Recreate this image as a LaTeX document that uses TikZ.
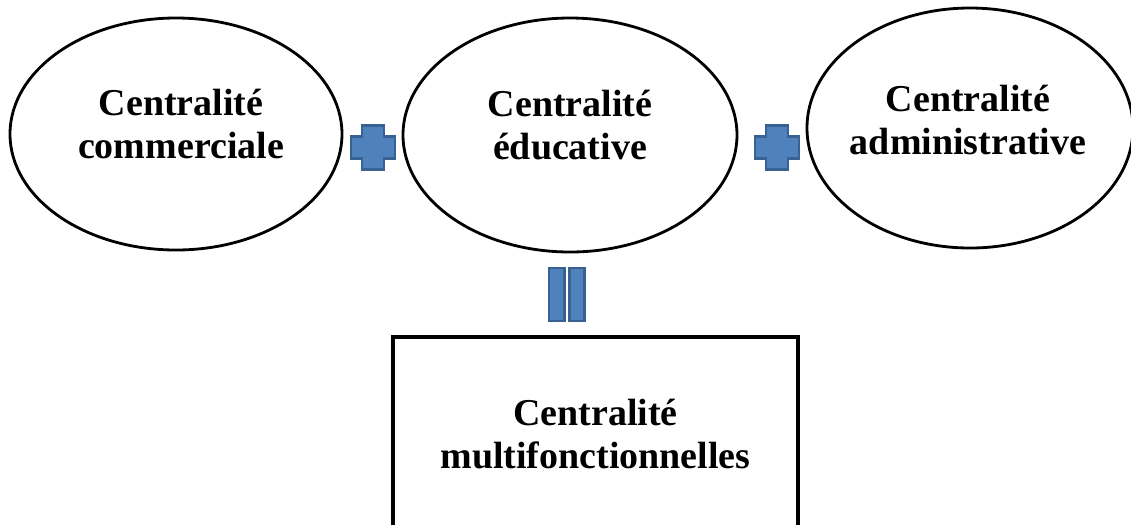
\documentclass[tikz,border=0pt]{standalone}
\usepackage{fontspec}
\setmainfont{Liberation Serif}
\usetikzlibrary{shapes.geometric}

\definecolor{bleusigne}{HTML}{4F81BD}
\definecolor{bordsigne}{HTML}{3A6193}

\tikzset{
bulle/.style={ellipse,draw,line width=0.8pt,inner sep=0pt},
titre/.style={align=center,font=\fontsize{10.8}{12.4}\selectfont\bfseries},
signe/.style={fill=bleusigne,draw=bordsigne,line width=0.8pt}
}

\begin{document}
\begin{tikzpicture}
\def\signeplus#1{ % #1 centre du signe
\draw[signe] (#1) +(-0.11,0.22) -- +(0.11,0.22) -- +(0.11,0.11) -- +(0.22,0.11)
 -- +(0.22,-0.11) -- +(0.11,-0.11) -- +(0.11,-0.22) -- +(-0.11,-0.22)
 -- +(-0.11,-0.11) -- +(-0.22,-0.11) -- +(-0.22,0.11) -- +(-0.11,0.11) -- cycle;
}

\clip (0,0) rectangle (11.31,5.24);

%les trois centralites

\node[bulle,minimum width=3.32cm,minimum height=2.32cm] (com) at (1.76,3.90) {};
\node[titre] (com-t) at ([shift={(0.05,0.1)}]com.center) {Centralité\\commerciale};

\node[bulle,minimum width=3.34cm,minimum height=2.34cm] (edu) at (5.70,3.89) {};
\node[titre] (edu-t) at ([yshift=0.1cm]edu.center) {Centralité\\éducative};

\node[bulle,minimum width=3.26cm,minimum height=2.40cm] (adm) at (9.70,3.96) {};
\node[titre] (adm-t) at ([shift={(-0.02,0.08)}]adm.center) {Centralité\\administrative};

%signes plus et egal

\coordinate (p1) at (3.73,3.765);
\signeplus{p1};
\coordinate (p2) at (7.77,3.765);
\signeplus{p2};

\draw[signe] (5.49,2.03) rectangle (5.645,2.56);
\draw[signe] (5.695,2.03) rectangle (5.845,2.56);

%resultat

\node[draw,line width=1pt,minimum width=4.05cm,minimum height=1.94cm,titre] (multi) at (5.955,0.90) {Centralité\\multifonctionnelles};
\end{tikzpicture}
\end{document}
